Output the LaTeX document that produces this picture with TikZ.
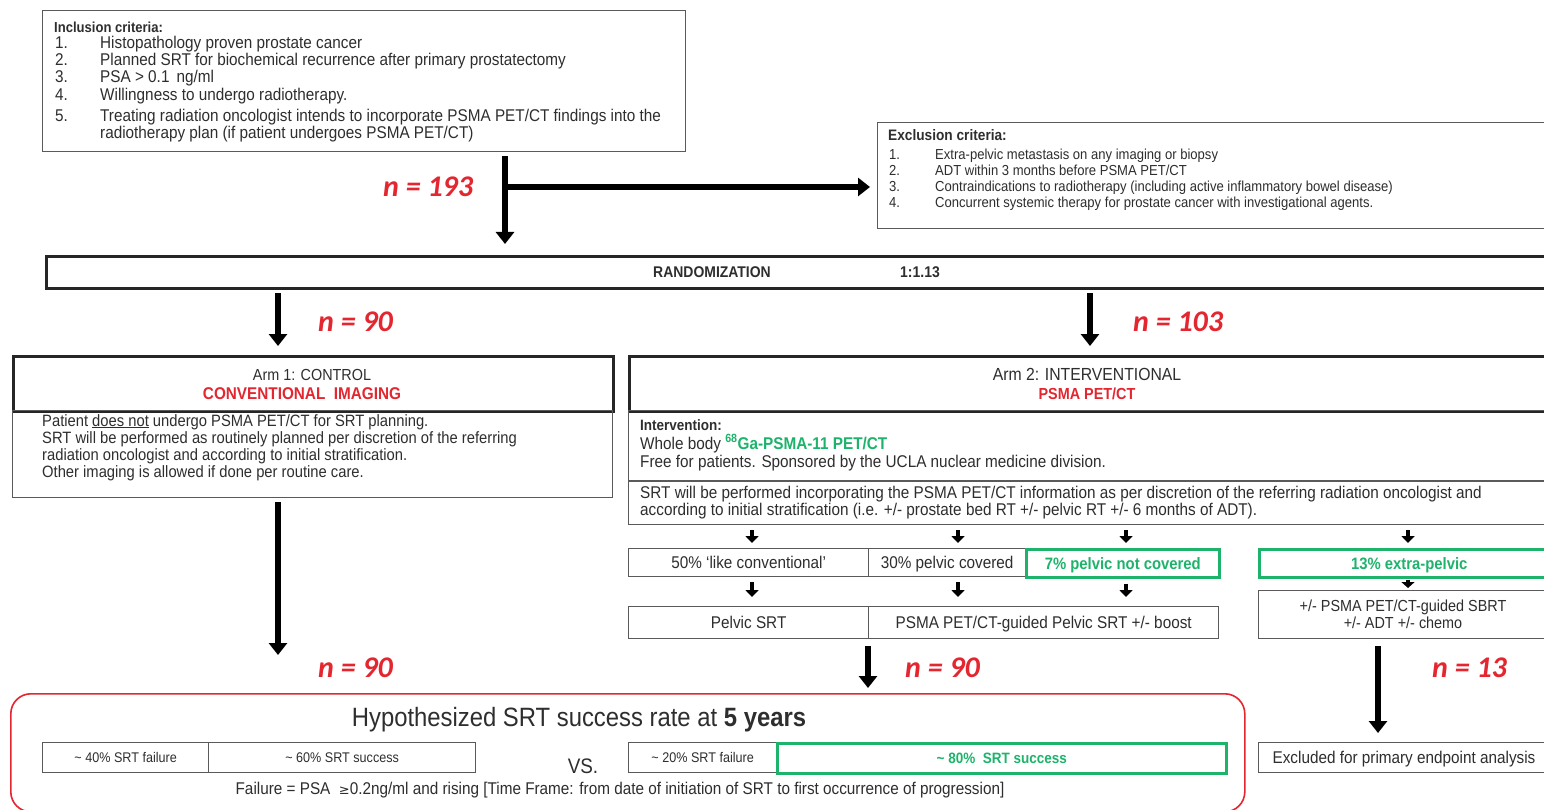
\documentclass[tikz,border=0pt]{standalone}
\usepackage{fontspec}
\setmainfont{Liberation Sans}[FakeStretch=0.9]
\newfontfamily\nfont{Carlito}
\usetikzlibrary{arrows.meta}
\definecolor{txt}{HTML}{2E2E2E}
\definecolor{myred}{HTML}{E3262F}
\definecolor{mygreen}{HTML}{1DB36B}
\definecolor{bord}{HTML}{5A5A5A}
\begin{document}
\begin{tikzpicture}[x=1pt,y=-1pt,
 box/.style={draw=bord, line width=1.3pt, inner sep=0pt, anchor=north west},
 hbox/.style={draw=black!85, line width=2.6pt, inner sep=0pt, anchor=north west},
 gbox/.style={draw=mygreen, line width=2.6pt, inner sep=0pt, anchor=north west},
 rbox/.style={draw=myred, line width=1.6pt, rounded corners=20pt, inner sep=0pt, anchor=north west},
 tl/.style={text=txt, font=\fontsize{17}{19}\selectfont, inner sep=0pt, anchor=base west},
 tc/.style={text=txt, font=\fontsize{17}{19}\selectfont, inner sep=0pt, anchor=base},
 te/.style={text=txt, font=\fontsize{14.5}{16}\selectfont, inner sep=0pt, anchor=base west},
 gt/.style={text=mygreen, font=\bfseries\fontsize{16.5}{18}\selectfont, inner sep=0pt, anchor=base},
 nlab/.style={text=myred, font=\nfont\bfseries\itshape\fontsize{30}{32}\selectfont, inner sep=0pt, anchor=base west},
 big/.style={line width=6.5pt, -{Triangle[width=18pt,length=12pt]}},
 small/.style={line width=4.5pt, -{Triangle[width=13pt,length=7pt]}},
]
\useasboundingbox[fill=white] (0,0) rectangle (1544,810);

% ---------- Inclusion ----------
\node[box, minimum width=643pt, minimum height=141pt] (incl) at (42,10) {};
\node[tl, font=\bfseries\fontsize{14.5}{16}\selectfont] (ih) at (54,33) {Inclusion criteria:};
\node[tl] (i1n) at (55,49) {1.};
\node[tl] (i1) at (100,49) {Histopathology proven prostate cancer};
\node[tl] (i2n) at (55,66) {2.};
\node[tl] (i2) at (100,66) {Planned SRT for biochemical recurrence after primary prostatectomy};
\node[tl] (i3n) at (55,83) {3.};
\node[tl] (i3) at (100,83) {PSA > 0.1\, ng/ml};
\node[tl] (i4n) at (55,101) {4.};
\node[tl] (i4) at (100,101) {Willingness to undergo radiotherapy.};
\node[tl] (i5n) at (55,122) {5.};
\node[tl] (i5) at (100,122) {Treating radiation oncologist intends to incorporate PSMA PET/CT findings into the};
\node[tl] (i5b) at (100,139) {radiotherapy plan (if patient undergoes PSMA PET/CT)};

% ---------- Exclusion ----------
\node[box, minimum width=680pt, minimum height=106pt] (excl) at (877,122) {};
\node[te, font=\bfseries\fontsize{15.2}{17}\selectfont] (eh) at (888,141) {Exclusion criteria:};
\node[te] (e1n) at (889,160) {1.};
\node[te] (e1) at (935,160) {Extra-pelvic metastasis on any imaging or biopsy};
\node[te] (e2n) at (889,176) {2.};
\node[te] (e2) at (935,176) {ADT within 3 months before PSMA PET/CT};
\node[te] (e3n) at (889,192) {3.};
\node[te] (e3) at (935,192) {Contraindications to radiotherapy (including active inflammatory bowel disease)};
\node[te] (e4n) at (889,208) {4.};
\node[te] (e4) at (935,208) {Concurrent systemic therapy for prostate cancer with investigational agents.};

% ---------- Randomization ----------
\node[hbox, line width=3.2pt, minimum width=1520pt, minimum height=32pt] (rand) at (45,255) {};
\node[tc, font=\bfseries\fontsize{15.5}{17}\selectfont] (rt) at (712,277) {RANDOMIZATION};
\node[tc, font=\bfseries\fontsize{15.5}{17}\selectfont] (rr) at (920,277) {1:1.13};

\coordinate (split) at (505,187);
\draw[big] ([yshift=-4pt]incl.south -| split) -- ([yshift=11pt]rand.north -| split);
\draw[big] ([xshift=-3pt]split) -- ([xshift=-7pt]excl.west |- split);
\node[nlab] (n193) at (383,197) {n = 193};

% ---------- Arms ----------
\node[hbox, minimum width=600pt, minimum height=55pt] (a1h) at (12,355) {};
\node[tc, font=\fontsize{16}{18}\selectfont] at (312,380) {Arm 1: CONTROL};
\node[tc, text=myred, font=\bfseries\fontsize{17}{18}\selectfont] at (302,399) {CONVENTIONAL\ \ IMAGING};
\node[box, minimum width=600pt, minimum height=87pt] (a1b) at (12,410) {};
\node[tl, font=\fontsize{16.4}{18}\selectfont] at (42,426) {Patient \underline{does not} undergo PSMA PET/CT for SRT planning.};
\node[tl, font=\fontsize{16.4}{18}\selectfont] at (42,443) {SRT will be performed as routinely planned per discretion of the referring};
\node[tl, font=\fontsize{16.4}{18}\selectfont] at (42,460) {radiation oncologist and according to initial stratification.};
\node[tl, font=\fontsize{16.4}{18}\selectfont] at (42,477) {Other imaging is allowed if done per routine care.};

\node[hbox, minimum width=930pt, minimum height=55pt] (a2h) at (628,355) {};
\node[tc, font=\fontsize{17.5}{19}\selectfont] at (1087,380) {Arm 2: INTERVENTIONAL};
\node[tc, text=myred, font=\bfseries\fontsize{16}{18}\selectfont] at (1087,399) {PSMA PET/CT};
\node[box, minimum width=930pt, minimum height=70pt] (a2i) at (628,410) {};
\node[tl, font=\bfseries\fontsize{15}{17}\selectfont] at (640,430) {Intervention:};
\node[tl] at (640,449) {Whole body \textcolor{mygreen}{\bfseries\textsuperscript{68}Ga-PSMA-11 PET/CT}};
\node[tl] at (640,467) {Free for patients. Sponsored by the UCLA nuclear medicine division.};
\node[box, minimum width=930pt, minimum height=43pt] (a2s) at (628,481) {};
\node[tl] at (640,498) {SRT will be performed incorporating the PSMA PET/CT information as per discretion of the referring radiation oncologist and};
\node[tl] at (640,515) {according to initial stratification (i.e. +/- prostate bed RT +/- pelvic RT +/- 6 months of ADT).};

\coordinate (c1) at (278,0);
\coordinate (c2) at (1090,0);
\draw[big] ([yshift=-3pt]rand.south -| c1) -- ([yshift=9pt]a1h.north -| c1);
\draw[big] ([yshift=-3pt]rand.south -| c2) -- ([yshift=9pt]a2h.north -| c2);
\node[nlab] (n90a) at (318,331) {n = 90};
\node[nlab] (n103) at (1133,331) {n = 103};

% ---------- Row 1 ----------
\node[box, minimum width=240pt, minimum height=28pt] (r50) at (628,548) {};
\node[box, minimum width=157pt, minimum height=28pt] (r30) at (868,548) {};
\node[gbox, minimum width=193pt, minimum height=28pt] (r7) at (1025,548) {};
\node[gbox, minimum width=300pt, minimum height=28pt] (r13) at (1258,548) {};
\node[tc] at ([yshift=-6pt]r50.center) {50\% ‘like conventional’};
\node[tc] at ([yshift=-6pt]r30.center) {30\% pelvic covered};
\node[gt] at ([yshift=-6pt]r7.center) {7\% pelvic not covered};
\node[gt] at ([yshift=-6pt]r13.center) {13\% extra-pelvic};

\coordinate (s1) at (752,0);
\coordinate (s2) at (958,0);
\coordinate (s3) at (1126,0);
\coordinate (s4) at (1408,0);
\draw[small] ([yshift=-5pt]a2s.south -| s1) -- ([yshift=5pt]r50.north -| s1);
\draw[small] ([yshift=-5pt]a2s.south -| s2) -- ([yshift=5pt]r30.north -| s2);
\draw[small] ([yshift=-5pt]a2s.south -| s3) -- ([yshift=5pt]r7.north -| s3);
\draw[small] ([yshift=-5pt]a2s.south -| s4) -- ([yshift=5pt]r13.north -| s4);

% ---------- Row 2 ----------
\node[box, minimum width=240pt, minimum height=32pt] (p1) at (628,606) {};
\node[box, minimum width=350pt, minimum height=32pt] (p2) at (868,606) {};
\node[box, minimum width=300pt, minimum height=48pt] (p3) at (1258,590) {};
\node[tc] at ([yshift=-6pt]p1.center) {Pelvic SRT};
\node[tc] at ([yshift=-6pt]p2.center) {PSMA PET/CT-guided Pelvic SRT +/- boost};
\node[tc, font=\fontsize{16}{18}\selectfont] at (1403,611) {+/- PSMA PET/CT-guided SBRT};
\node[tc, font=\fontsize{16}{18}\selectfont] at (1403,628) {+/- ADT +/- chemo};

\draw[small] ([yshift=-5pt]r50.south -| s1) -- ([yshift=9pt]p1.north -| s1);
\draw[small] ([yshift=-5pt]r30.south -| s2) -- ([yshift=9pt]p2.north -| s2);
\draw[small] ([yshift=-5pt]r7.south -| s3) -- ([yshift=9pt]p2.north -| s3);
\draw[small, -{Triangle[width=13pt,length=6pt]}] ([yshift=-1pt]r13.south -| s4) -- ([yshift=2pt]p3.north -| s4);

% ---------- Outcome ----------
\node[rbox, minimum width=1234pt, minimum height=118pt] (res) at (10,693) {};
\node[tc, font=\fontsize{26.5}{28}\selectfont] (title) at (579,726) {Hypothesized SRT success rate at \textbf{5 years}};
\node[box, minimum width=166pt, minimum height=30pt] (f40) at (42,742) {};
\node[box, minimum width=267pt, minimum height=30pt] (s60) at (208,742) {};
\node[box, minimum width=148pt, minimum height=30pt] (f20) at (628,742) {};
\node[gbox, minimum width=449pt, minimum height=30pt] (s80) at (776,742) {};
\node[tc, font=\fontsize{14}{16}\selectfont] at ([yshift=-5pt]f40.center) {\textasciitilde\ 40\% SRT failure};
\node[tc, font=\fontsize{14}{16}\selectfont] at ([yshift=-5pt]s60.center) {\textasciitilde\ 60\% SRT success};
\node[tc, font=\fontsize{14}{16}\selectfont] at ([yshift=-5pt]f20.center) {\textasciitilde\ 20\% SRT failure};
\node[gt, font=\bfseries\fontsize{15}{17}\selectfont] at ([yshift=-5pt]s80.center) {\textasciitilde\ 80\%\ \ SRT success};
\node[tc, font=\fontsize{21}{23}\selectfont] (vs) at (583,773) {VS.};
\node[tc] (fail) at (620,794) {Failure = PSA\ \ {\fontspec{DejaVu Sans}\fontsize{13}{15}\selectfont ≥}0.2ng/ml and rising [Time Frame: from date of initiation of SRT to first occurrence of progression]};

\node[box, minimum width=300pt, minimum height=30pt] (exc) at (1258,742) {};
\node[tc] at (1404,763) {Excluded for primary endpoint analysis};

\coordinate (c3) at (868,0);
\coordinate (c4) at (1378,0);
\draw[big] ([yshift=-4pt]a1b.south -| c1) -- ([yshift=38pt]res.north -| c1);
\draw[big] ([yshift=-7pt]p2.south -| c3) -- ([yshift=5pt]res.north -| c3);
\draw[big] ([yshift=-7pt]p3.south -| c4) -- ([yshift=9pt]exc.north -| c4);
\node[nlab] (n90b) at (318,677) {n = 90};
\node[nlab] (n90c) at (905,677) {n = 90};
\node[nlab] (n13) at (1432,677) {n = 13};
\end{tikzpicture}
\end{document}
